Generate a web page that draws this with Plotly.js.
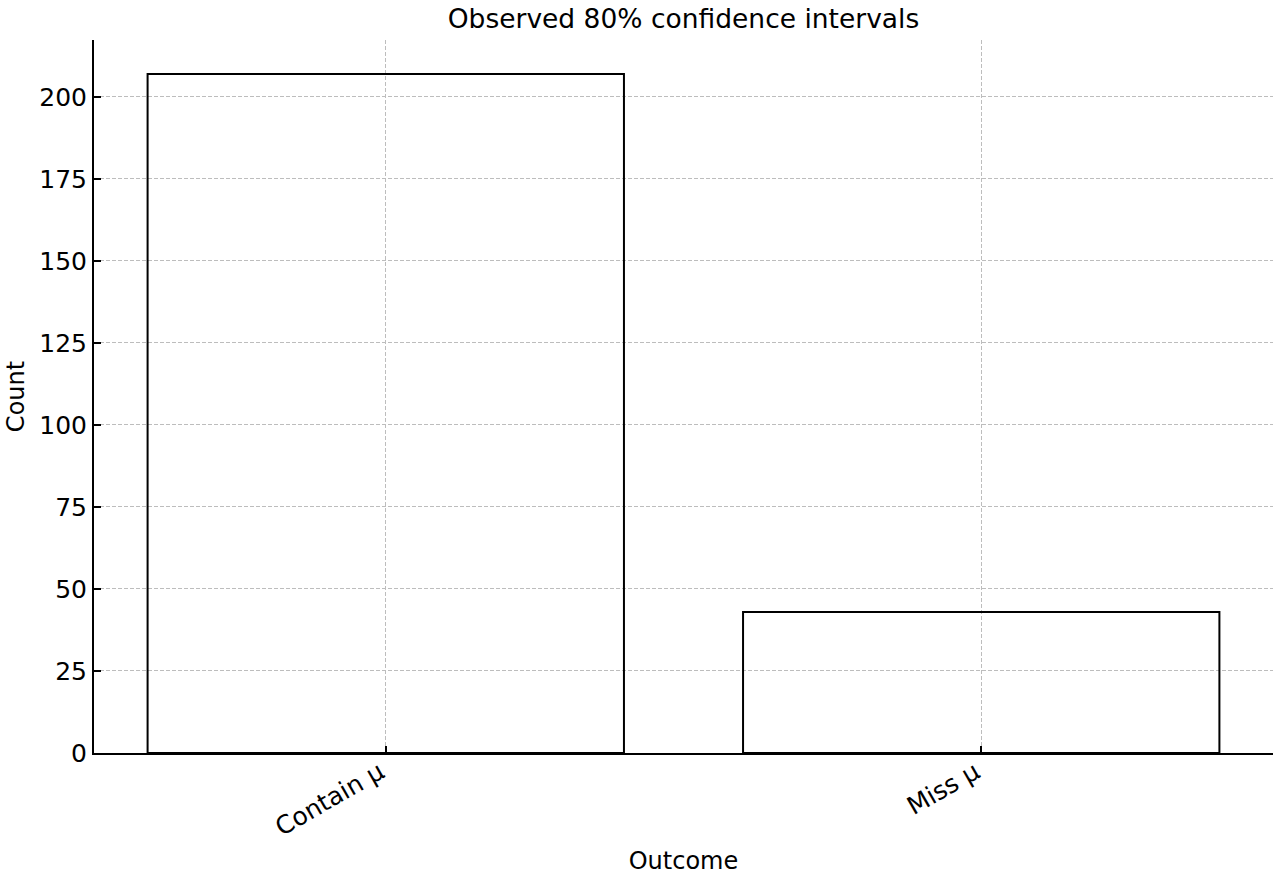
<!DOCTYPE html>
<html>
<head>
<meta charset="utf-8">
<script src="https://cdn.plot.ly/plotly-3.0.1.min.js"></script>
<style>html,body{margin:0;padding:0;background:#fff;}#chart{width:1280px;height:880px;}</style>
</head>
<body>
<div id="chart"></div>
<script>
const categories = ["Contain μ", "Miss μ"];
const counts = [207, 43];
const yTicks = [0, 25, 50, 75, 100, 125, 150, 175, 200];

const FONT = "DejaVu Sans, sans-serif";

const trace = {
  type: "bar",
  x: categories,
  y: counts,
  width: 0.8,
  marker: {color: "rgba(255,255,255,0)", line: {color: "#000", width: 2}},
  hoverinfo: "none"
};

const layout = {
  width: 1280, height: 880,
  margin: {l: 94, r: 7, t: 40, b: 127},
  paper_bgcolor: "#fff", plot_bgcolor: "#fff",
  showlegend: false,
  font: {family: FONT, size: 24, color: "#000"},
  title: {text: "Observed 80% confidence intervals", font: {family: FONT, size: 26.5, color: "#000"}, x: 0.5, xref: "paper", y: 1, yref: "container", yanchor: "top", pad: {t: 9}},
  xaxis: {
    type: "category",
    range: [-0.49, 1.49],
    title: {text: "Outcome", font: {size: 24}, standoff: 11},
    tickangle: -30,
    ticks: "inside", ticklen: 7, tickwidth: 2, tickcolor: "#000",
    ticklabelshift: -6, ticklabelstandoff: -7,
    showline: true, linecolor: "#000", linewidth: 2,
    showgrid: true, gridcolor: "#bdbdbd", gridwidth: 1, griddash: "4px,2px",
    tickfont: {size: 25},
    zeroline: false
  },
  yaxis: {
    range: [0, 217.35],
    tickvals: yTicks,
    title: {text: "Count", font: {size: 24}, standoff: 8},
    ticks: "inside", ticklen: 7, tickwidth: 2, tickcolor: "#000",
    showline: true, linecolor: "#000", linewidth: 2,
    showgrid: true, gridcolor: "#bdbdbd", gridwidth: 1, griddash: "4px,2px",
    tickfont: {size: 25},
    zeroline: false
  },
  bargap: 0.2
};

Plotly.newPlot("chart", [trace], layout, {displayModeBar: false, staticPlot: true});
</script>
</body>
</html>
